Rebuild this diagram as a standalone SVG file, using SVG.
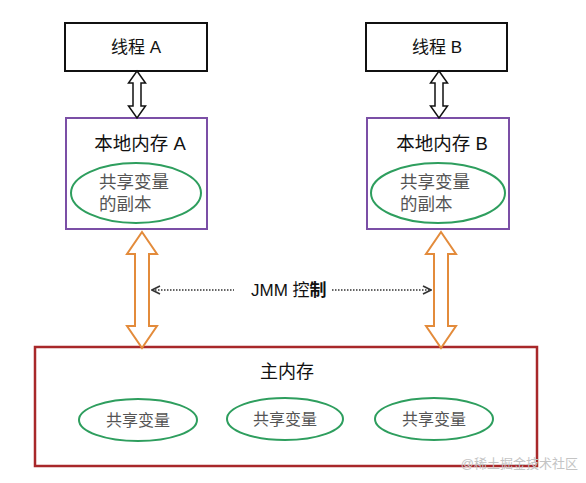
<svg xmlns="http://www.w3.org/2000/svg" width="586" height="483" viewBox="0 0 586 483">
<defs>
<style>
.t{font-family:"Liberation Sans","Noto Sans CJK SC",sans-serif;fill:#111;}
.g{font-family:"Liberation Sans","Noto Sans CJK SC",sans-serif;fill:#555;}
.thread{fill:#fff;stroke:#111;stroke-width:2;}
.local{fill:#fff;stroke:#7b4fa6;stroke-width:2;}
.main{fill:#fff;stroke:#a8282a;stroke-width:2.5;}
.ell{fill:#fff;stroke:#2e9e5e;stroke-width:2;}
.barrow{fill:#fff;stroke:#111;stroke-width:1.5;}
.oarrow{fill:#fff;stroke:#e38b3b;stroke-width:2;}
.dot{stroke:#333;stroke-width:1.5;stroke-dasharray:1.5 1.5;fill:none;}
</style>
<marker id="chev" viewBox="0 0 10 10" refX="9" refY="5" markerWidth="10" markerHeight="10" markerUnits="userSpaceOnUse" orient="auto-start-reverse">
<path d="M1,1 L9,5 L1,9" fill="none" stroke="#333" stroke-width="1.6"/>
</marker>
</defs>
<rect width="586" height="483" fill="#fff"/>

<g id="threadA">
<rect class="thread" x="65" y="23" width="142" height="48"/>
<text class="t" x="136" y="53" font-size="17" text-anchor="middle">线程 A</text>
</g>
<g id="threadB">
<rect class="thread" x="366" y="23" width="141" height="48"/>
<text class="t" x="437" y="53" font-size="17" text-anchor="middle">线程 B</text>
</g>

<g id="localA">
<rect class="local" x="66" y="118" width="141" height="111"/>
<text class="t" x="140" y="150" font-size="18.5" text-anchor="middle">本地内存 A</text>
<ellipse class="ell" cx="136" cy="193" rx="65" ry="30"/>
<text class="g" x="99" y="188" font-size="17.5">共享变量</text>
<text class="g" x="99" y="210" font-size="17.5">的副本</text>
</g>
<g id="localB">
<rect class="local" x="367" y="118" width="142" height="111"/>
<text class="t" x="442" y="150" font-size="18.5" text-anchor="middle">本地内存 B</text>
<ellipse class="ell" cx="438" cy="193" rx="67" ry="30"/>
<text class="g" x="400" y="188" font-size="17.5">共享变量</text>
<text class="g" x="400" y="210" font-size="17.5">的副本</text>
</g>

<g id="mainMemory">
<rect class="main" x="35" y="347" width="502" height="119"/>
<text class="t" x="287" y="378" font-size="18" text-anchor="middle">主内存</text>
<ellipse class="ell" cx="138" cy="420" rx="59" ry="21"/>
<text class="g" x="138" y="426" font-size="16" text-anchor="middle">共享变量</text>
<ellipse class="ell" cx="285" cy="419" rx="58" ry="21"/>
<text class="g" x="285" y="425" font-size="16" text-anchor="middle">共享变量</text>
<ellipse class="ell" cx="434" cy="419" rx="59" ry="21"/>
<text class="g" x="434" y="425" font-size="16" text-anchor="middle">共享变量</text>
</g>

<g id="connectors">
<polygon class="barrow" points="137,71 145.5,83 141,83 141,106 145.5,106 137,118 128.5,106 133,106 133,83 128.5,83"/>
<polygon class="barrow" points="439,71 447.5,83 443,83 443,106 447.5,106 439,118 430.5,106 435,106 435,83 430.5,83"/>
<polygon class="oarrow" points="142,232 157,254 149,254 149,326 157,326 142,348 127,326 135,326 135,254 127,254"/>
<polygon class="oarrow" points="441,232 456,254 448,254 448,326 456,326 441,348 426,326 434,326 434,254 426,254"/>
<line class="dot" x1="152" y1="290" x2="234" y2="290" marker-start="url(#chev)"/>
<line class="dot" x1="332" y1="290" x2="431" y2="290" marker-end="url(#chev)"/>
<text class="t" x="251" y="296" font-size="17" fill="#222">JMM 控<tspan font-weight="bold">制</tspan></text>
</g>

<text x="578" y="468" font-size="13" text-anchor="end" fill="#c4c4c4" font-family="'Liberation Sans','Noto Sans CJK SC',sans-serif">@稀土掘金技术社区</text>
</svg>
